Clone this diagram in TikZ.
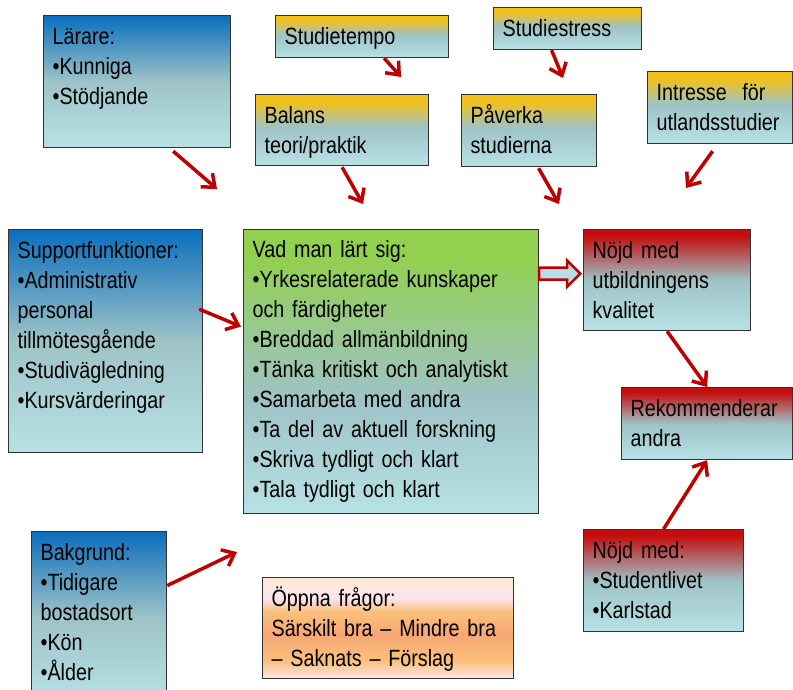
\documentclass[tikz,border=0pt]{standalone}
\usepackage{fontspec}
\setmainfont[FakeStretch=0.84]{Liberation Sans}
\usetikzlibrary{arrows.meta}

\definecolor{lightcyan}{HTML}{B7E2E5}
\definecolor{midgrey}{HTML}{9EC3C7}
\definecolor{topblue}{HTML}{0A6EBD}
\definecolor{topyellow}{HTML}{F2C11C}
\definecolor{topred}{HTML}{C40E0E}
\definecolor{topgreen}{HTML}{92D050}
\definecolor{arrowred}{HTML}{C00000}
\definecolor{arrowfill}{HTML}{B7DDE6}
\definecolor{ocream}{HTML}{FDEAD2}
\definecolor{opink}{HTML}{FCE4F0}
\definecolor{oorange}{HTML}{FAC07A}
\definecolor{opeach}{HTML}{F8A676}
\definecolor{obottom}{HTML}{FDE6EA}

\pgfdeclareverticalshading{blueshade}{100bp}{color(0bp)=(lightcyan); color(25bp)=(lightcyan); color(50bp)=(midgrey); color(75bp)=(topblue); color(100bp)=(topblue)}
\pgfdeclareverticalshading{yellowshade}{100bp}{color(0bp)=(lightcyan); color(25bp)=(lightcyan); color(52bp)=(midgrey); color(70bp)=(topyellow); color(100bp)=(topyellow)}
\pgfdeclareverticalshading{redshade}{100bp}{color(0bp)=(lightcyan); color(25bp)=(lightcyan); color(50bp)=(midgrey); color(72bp)=(topred); color(100bp)=(topred)}
\pgfdeclareverticalshading{greenshade}{100bp}{color(0bp)=(lightcyan); color(25bp)=(lightcyan); color(45bp)=(midgrey); color(70bp)=(topgreen); color(100bp)=(topgreen)}
\pgfdeclareverticalshading{orangeshade}{100bp}{color(0bp)=(obottom); color(25bp)=(obottom); color(34bp)=(oorange); color(47bp)=(opeach); color(58bp)=(oorange); color(65bp)=(opink); color(75bp)=(ocream); color(100bp)=(ocream)}

\newcommand\boxfont{\fontsize{23.5}{30}\selectfont\spaceskip=5.2pt plus 2pt minus 1pt\relax}

\begin{document}
\begin{tikzpicture}[x=1pt,y=-1pt,
    box/.style={draw=black!80, line width=1.2pt, anchor=north west, inner xsep=9pt, inner ysep=0pt,
      align=left, font=\boxfont, text height=29pt, shade},
    bluebox/.style={box, shading=blueshade},
    yellowbox/.style={box, shading=yellowshade},
    redbox/.style={box, shading=redshade},
    greenbox/.style={box, shading=greenshade},
    orangebox/.style={box, shading=orangeshade},
    arr/.style={draw=arrowred, line width=3.5pt, -{Straight Barb[length=11pt,width=18pt]}},
    hollowarr/.style={draw=arrowred, line width=2.5pt, fill=arrowfill, line join=miter}]
    \useasboundingbox (0,0) rectangle (793,689);

    % boxes
    \node[bluebox, text width=169pt, text depth=103pt] (lar) at (43,15) {Lärare:\\•Kunniga\\•Stödjande};
    \node[yellowbox, text width=155pt, text depth=13pt] (tempo) at (275,15) {Studietempo};
    \node[yellowbox, text width=155pt, text depth=42pt] (balans) at (255,94) {Balans\\teori/praktik};
    \node[yellowbox, text width=130pt, text depth=13pt] (stress) at (493,7) {Studiestress};
    \node[yellowbox, text width=117pt, text depth=43pt] (paverka) at (461,94) {Påverka\\studierna};
    \node[yellowbox, text width=127pt, text depth=43pt] (intresse) at (647,71) {Intresse\ \ för\\utlandsstudier};
    \node[bluebox, text width=176pt, text depth=194pt] (sup) at (8,229)
      {Supportfunktioner:\\•Administrativ\\personal\\tillmötesgående\\•Studivägledning\\•Kursvärderingar};
    \node[greenbox, text width=277pt, text depth=256pt, text height=28pt] (vad) at (243,229)
      {Vad man lärt sig:\\•Yrkesrelaterade kunskaper\\och färdigheter\\•Breddad allmänbildning\\•Tänka kritiskt och analytiskt\\•Samarbeta med andra\\•Ta del av aktuell forskning\\•Skriva tydligt och klart\\•Tala tydligt och klart};
    \node[redbox, text width=149pt, text depth=72pt] (nojd) at (583,229) {Nöjd med\\utbildningens\\kvalitet};
    \node[redbox, text width=153pt, text depth=43pt] (rek) at (621,387) {Rekommenderar\\andra};
    \node[bluebox, text width=117pt, text depth=141pt] (bak) at (31,531) {Bakgrund:\\•Tidigare\\bostadsort\\•Kön\\•Ålder};
    \node[orangebox, text width=233pt, text depth=72pt] (oppna) at (262,577) {Öppna frågor:\\Särskilt bra – Mindre bra\\– Saknats – Förslag};
    \node[redbox, text width=142pt, text depth=73pt] (nojdmed) at (583,529) {Nöjd med:\\•Studentlivet\\•Karlstad};

    % free arrow tips
    \coordinate (larTip) at (217,189);
    \coordinate (tempoTip) at (401,77);
    \coordinate (balansTip) at (363,204);
    \coordinate (stressTip) at (563,78);
    \coordinate (paverkaTip) at (559,204);
    \coordinate (intresseTip) at (686,188);
    \coordinate (bakTip) at (237,552);

    % arrows
    \draw[arr] ([xshift=-58pt,yshift=-3pt]lar.south east) -- (larTip);
    \draw[arr] ([xshift=-65pt]tempo.south east) -- (tempoTip);
    \draw[arr] ([yshift=-1pt]balans.south) -- (balansTip);
    \draw[arr] ([xshift=-16pt]stress.south) -- (stressTip);
    \draw[arr] ([xshift=9.5pt,yshift=-1pt]paverka.south) -- (paverkaTip);
    \draw[arr] ([xshift=-7.5pt,yshift=-7pt]intresse.south) -- (intresseTip);
    \draw[arr] ([xshift=-4pt,yshift=32pt]sup.east) -- ([xshift=-2pt,yshift=45pt]vad.west);
    \draw[arr] (nojd.south) -- (rek.north);
    \draw[arr] (nojdmed.north) -- (rek.south);
    \draw[arr] ([yshift=31pt]bak.east) -- (bakTip);
    \draw[hollowarr] ([yshift=104pt]vad.east) -- ++(28,0) -- ++(0,-7) -- ++(13,13)
      -- ++(-13,13) -- ++(0,-7) -- ++(-28,0) -- cycle;
\end{tikzpicture}
\end{document}
